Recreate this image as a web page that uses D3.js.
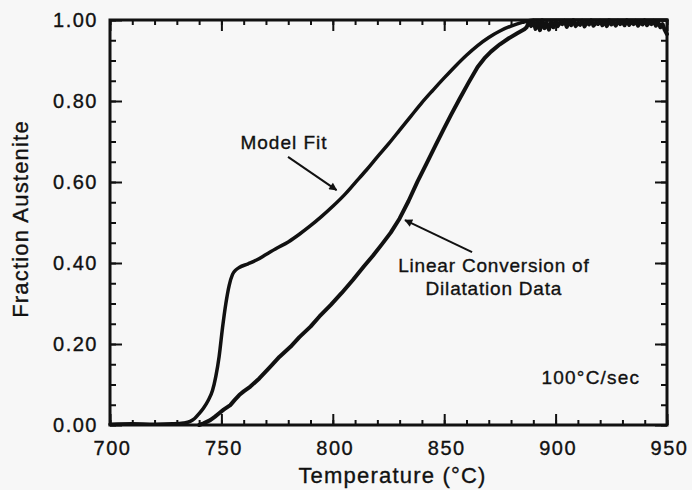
<!DOCTYPE html>
<html>
<head>
<meta charset="utf-8">
<script src="https://cdn.jsdelivr.net/npm/d3@7"></script>
<style>
  html, body { margin: 0; padding: 0; background: #f7f7f7; }
  svg { display: block; }
  text { font-family: "Liberation Sans", Arial, Helvetica, sans-serif; fill: #111; stroke: #111; stroke-width: 0.35px; }
</style>
</head>
<body>
<svg id="chart" width="692" height="490"></svg>
<script>
// ---- Data ----
const xTicks = [700, 750, 800, 850, 900, 950];
const yTicks = [0.0, 0.2, 0.4, 0.6, 0.8, 1.0];
const xTickLabels = ["700", "750", "800", "850", "900", "950"];
const yTickLabels = ["0.00", "0.20", "0.40", "0.60", "0.80", "1.00"];

const modelT = [700, 710, 720, 728, 733, 736, 738, 740, 742, 744, 746, 747.5, 749, 750.5, 752, 753.5, 755, 756.5, 758, 762, 766, 770, 775, 780, 785, 790, 795, 800, 805, 810, 815, 820, 825, 830, 835, 840, 845, 850, 855, 860, 865, 870, 875, 880, 885, 890, 950];
const modelF = [0.002, 0.003, 0.002, 0.003, 0.005, 0.009, 0.016, 0.028, 0.042, 0.06, 0.085, 0.12, 0.17, 0.24, 0.30, 0.345, 0.372, 0.383, 0.389, 0.398, 0.408, 0.421, 0.437, 0.452, 0.471, 0.492, 0.515, 0.540, 0.567, 0.598, 0.629, 0.662, 0.694, 0.728, 0.762, 0.796, 0.827, 0.857, 0.886, 0.913, 0.937, 0.957, 0.973, 0.985, 0.994, 1.0, 1.0];

const dataT = [740, 742, 745, 747, 749, 751, 754, 756, 758, 760, 763, 767, 772, 776, 781, 785, 790, 794, 799, 804, 809, 814, 818, 822, 826, 830, 834, 838, 842, 846, 850, 853, 857, 861, 865, 868, 871, 875, 879, 883, 886,
  887, 888, 889, 890, 891, 892, 893, 894, 895, 896, 897, 898, 899, 900, 901, 902, 903, 904, 905, 906, 907, 908, 909, 910, 911, 912, 913, 914, 915, 916, 917, 918, 919, 920, 921, 922, 923, 924, 925, 926, 927, 928, 929, 930, 931, 932, 933, 934, 935, 936, 937, 938, 939, 940, 941, 942, 943, 944, 945, 946, 947, 948, 949, 950];
const dataF = [0.000, 0.004, 0.012, 0.020, 0.029, 0.038, 0.049, 0.062, 0.074, 0.083, 0.095, 0.115, 0.144, 0.168, 0.193, 0.217, 0.243, 0.268, 0.296, 0.326, 0.358, 0.392, 0.418, 0.446, 0.475, 0.510, 0.553, 0.601, 0.645, 0.689, 0.733, 0.765, 0.806, 0.846, 0.884, 0.905, 0.922, 0.940, 0.955, 0.968, 0.977,
  0.982, 0.995, 0.985, 0.998, 0.978, 0.996, 0.975, 0.999, 0.980, 0.993, 0.976, 0.995, 0.982, 0.997, 0.985, 0.994, 0.990, 0.998, 0.983, 0.996, 0.987, 0.999, 0.985, 0.992, 0.988, 0.998, 0.984, 0.995, 0.989, 0.999, 0.986, 0.993, 0.990, 0.998, 0.987, 0.996, 0.985, 0.999, 0.989, 0.994, 0.986, 0.998, 0.990, 0.995, 0.987, 0.999, 0.988, 0.996, 0.990, 0.998, 0.986, 0.995, 0.989, 0.999, 0.987, 0.994, 0.990, 0.998, 0.986, 0.995, 0.982, 0.990, 0.975, 0.965, 0.960];

const xTitle = "Temperature (°C)";
const yTitle = "Fraction Austenite";
const annModel = "Model Fit";
const annData = ["Linear Conversion of", "Dilatation Data"];
const annRate = "100°C/sec";

// ---- Layout ----
const W = 692, H = 490;
const m = {left: 110, right: 25, top: 20, bottom: 65};
const iw = W - m.left - m.right, ih = H - m.top - m.bottom;
const ink = "#111";

const svg = d3.select("#chart");
const g = svg.append("g").attr("transform", `translate(${m.left},${m.top})`);

const x = d3.scaleLinear().domain([700, 950]).range([0, iw]);
const y = d3.scaleLinear().domain([0, 1]).range([ih, 0]);

const minorX = d3.range(700, 951, 10);
const minorY = d3.range(0, 1.0001, 0.05);

function styleAxis(sel) {
  sel.select(".domain").remove();
  sel.selectAll(".tick line").attr("stroke", ink).attr("stroke-width", 2);
}

// minor ticks (all four sides, inward)
g.append("g").attr("transform", `translate(0,${ih})`)
  .call(d3.axisBottom(x).tickValues(minorX).tickSize(-5).tickFormat("")).call(styleAxis);
g.append("g")
  .call(d3.axisTop(x).tickValues(minorX).tickSize(-5).tickFormat("")).call(styleAxis);
g.append("g")
  .call(d3.axisLeft(y).tickValues(minorY).tickSize(-6).tickFormat("")).call(styleAxis);
g.append("g").attr("transform", `translate(${iw},0)`)
  .call(d3.axisRight(y).tickValues(minorY).tickSize(-6).tickFormat("")).call(styleAxis);

// major ticks with labels
const xAx = g.append("g").attr("transform", `translate(0,${ih})`)
  .call(d3.axisBottom(x).tickValues(xTicks).tickSize(-11).tickPadding(16)
    .tickFormat((d, i) => xTickLabels[i]));
xAx.call(styleAxis);
xAx.selectAll("text").attr("font-size", 20).attr("letter-spacing", 1.5)
  .attr("dx", 2).style("font-family", '"Liberation Sans", Arial, sans-serif').attr("fill", ink);

g.append("g").call(d3.axisTop(x).tickValues(xTicks).tickSize(-11).tickFormat("")).call(styleAxis);

const yAx = g.append("g")
  .call(d3.axisLeft(y).tickValues(yTicks).tickSize(-12).tickPadding(12)
    .tickFormat((d, i) => yTickLabels[i]));
yAx.call(styleAxis);
yAx.selectAll("text").attr("font-size", 20).attr("letter-spacing", 1.5)
  .style("font-family", '"Liberation Sans", Arial, sans-serif').attr("fill", ink);

g.append("g").attr("transform", `translate(${iw},0)`)
  .call(d3.axisRight(y).tickValues(yTicks).tickSize(-12).tickFormat("")).call(styleAxis);

// frame
g.append("rect").attr("x", 0).attr("y", 0).attr("width", iw).attr("height", ih)
  .attr("fill", "none").attr("stroke", ink).attr("stroke-width", 3);

// curves
const modelPts = modelT.map((t, i) => [t, modelF[i]]);
const dataPts = dataT.map((t, i) => [t, dataF[i]]);

g.append("path").datum(modelPts)
  .attr("fill", "none").attr("stroke", ink).attr("stroke-width", 3.5)
  .attr("stroke-linejoin", "round").attr("stroke-linecap", "round")
  .attr("d", d3.line().x(d => x(d[0])).y(d => y(d[1])).curve(d3.curveMonotoneX));

g.append("path").datum(dataPts)
  .attr("fill", "none").attr("stroke", ink).attr("stroke-width", 4)
  .attr("stroke-linejoin", "round").attr("stroke-linecap", "round")
  .attr("d", d3.line().x(d => x(d[0])).y(d => y(d[1])));

// arrow marker
svg.append("defs").append("marker")
  .attr("id", "ah").attr("viewBox", "0 0 10 10").attr("refX", 9).attr("refY", 5)
  .attr("markerWidth", 5).attr("markerHeight", 4).attr("orient", "auto")
  .attr("markerUnits", "strokeWidth")
  .append("path").attr("d", "M0,0 L10,5 L0,10 Z").attr("fill", ink);

// annotations (positions in data units)
const ann = svg.append("g");
function tx(v) { return m.left + x(v); }
function ty(v) { return m.top + y(v); }

ann.append("text").attr("x", tx(778.1)).attr("y", ty(0.681)).attr("text-anchor", "middle")
  .attr("font-size", 19).attr("letter-spacing", 1).text(annModel);
ann.append("line")
  .attr("x1", tx(779.9)).attr("y1", ty(0.662)).attr("x2", tx(801.7)).attr("y2", ty(0.58))
  .attr("stroke", ink).attr("stroke-width", 2).attr("marker-end", "url(#ah)");

ann.append("text").attr("x", tx(872.3)).attr("y", ty(0.378)).attr("text-anchor", "middle")
  .attr("font-size", 19).attr("letter-spacing", 0.8).text(annData[0]);
ann.append("text").attr("x", tx(872.3)).attr("y", ty(0.32)).attr("text-anchor", "middle")
  .attr("font-size", 19).attr("letter-spacing", 0.8).text(annData[1]);
ann.append("line")
  .attr("x1", tx(862.5)).attr("y1", ty(0.427)).attr("x2", tx(832.4)).attr("y2", ty(0.506))
  .attr("stroke", ink).attr("stroke-width", 2).attr("marker-end", "url(#ah)");

ann.append("text").attr("x", tx(893.7)).attr("y", ty(0.101)).attr("text-anchor", "start")
  .attr("font-size", 19).attr("letter-spacing", 1.2).text(annRate);

// axis titles
svg.append("text").attr("x", m.left + iw / 2 + 4).attr("y", 483)
  .attr("text-anchor", "middle").attr("font-size", 22).attr("letter-spacing", 1.2).text(xTitle);
svg.append("text").attr("transform", `translate(28,${219}) rotate(-90)`)
  .attr("text-anchor", "middle").attr("font-size", 22).attr("letter-spacing", 1.2).text(yTitle);
</script>
</body>
</html>
